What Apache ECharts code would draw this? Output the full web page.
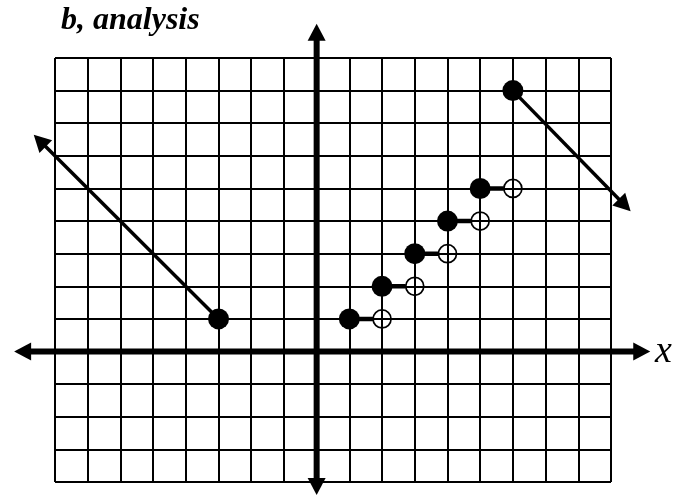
<!DOCTYPE html>
<html>
<head>
<meta charset="utf-8">
<script src="https://cdn.jsdelivr.net/npm/echarts@6/dist/echarts.min.js"></script>
<style>
  html, body { margin: 0; padding: 0; background: #fff; }
  #main { width: 685px; height: 498px; }
</style>
</head>
<body>
<div id="main"></div>
<script>
// grid range
var xMin = -8, xMax = 9;
var yMin = -4, yMax = 9;

// axes: [x1, y1, x2, y2] between the two arrow tips
var axisSegs = [
    [-9.25, 0, 10.2, 0],
    [0, -4.4, 0, 10.05]
];

// rays: [startX, startY, tipX, tipY]
var raySegs = [
    [-3, 1, -8.65, 6.65],
    [6, 8, 9.6, 4.3]
];

// closed dots and open dots
var closedPts = [[1, 1], [2, 2], [3, 3], [4, 4], [5, 5], [-3, 1], [6, 8]];
var openPts = [[2, 1], [3, 2], [4, 3], [5, 4], [6, 5]];

// step pieces: from closed dot to open dot
var steps = [
    [[1, 1], [2, 1]],
    [[2, 2], [3, 2]],
    [[3, 3], [4, 3]],
    [[4, 4], [5, 4]],
    [[5, 5], [6, 5]]
];

var UNIT = 32.7; // px per unit, only used to stop steps at the open circle
var openSize = 18;

var chart = echarts.init(document.getElementById('main'));

function head(tip, ux, uy, len, w) {
    var bx = tip[0] - ux * len, by = tip[1] - uy * len;
    return [tip, [bx - uy * w / 2, by + ux * w / 2], [bx + uy * w / 2, by - ux * w / 2]];
}

function arrowRender(width, both) {
    return function (params, api) {
        var a = api.coord([api.value(0), api.value(1)]);
        var b = api.coord([api.value(2), api.value(3)]);
        var dx = b[0] - a[0], dy = b[1] - a[1];
        var len = Math.sqrt(dx * dx + dy * dy);
        var ux = dx / len, uy = dy / len;
        var hl = 17, hw = 18;
        var s = both ? [a[0] + ux * (hl - 2), a[1] + uy * (hl - 2)] : a;
        var e = [b[0] - ux * (hl - 2), b[1] - uy * (hl - 2)];
        var kids = [{
            type: 'line',
            shape: { x1: s[0], y1: s[1], x2: e[0], y2: e[1] },
            style: { stroke: '#000', lineWidth: width, lineCap: 'butt' }
        }, {
            type: 'polygon',
            shape: { points: head(b, ux, uy, hl, hw) },
            style: { fill: '#000' }
        }];
        if (both) {
            kids.push({
                type: 'polygon',
                shape: { points: head(a, -ux, -uy, hl, hw) },
                style: { fill: '#000' }
            });
        }
        return { type: 'group', children: kids };
    };
}

var series = [{
    type: 'custom',
    silent: true,
    animation: false,
    clip: false,
    z: 3,
    renderItem: arrowRender(6, true),
    data: axisSegs
}, {
    type: 'custom',
    silent: true,
    animation: false,
    clip: false,
    z: 4,
    renderItem: arrowRender(3.5, false),
    data: raySegs
}];

steps.forEach(function (s) {
    var gap = (openSize / 2) / UNIT;
    series.push({
        type: 'line',
        silent: true,
        animation: false,
        symbol: 'none',
        z: 5,
        lineStyle: { color: '#000', width: 4.5, cap: 'butt' },
        data: [s[0], [s[1][0] - gap, s[1][1]]]
    });
});

series.push({
    type: 'scatter',
    silent: true,
    animation: false,
    z: 6,
    symbol: 'circle',
    symbolSize: 21,
    itemStyle: { color: '#000', opacity: 1 },
    data: closedPts
});
series.push({
    type: 'scatter',
    silent: true,
    animation: false,
    z: 6,
    symbol: 'circle',
    symbolSize: openSize,
    itemStyle: { color: 'rgba(0,0,0,0)', borderColor: '#000', borderWidth: 1.7, opacity: 1 },
    data: openPts
});

var option = {
    backgroundColor: '#fff',
    animation: false,
    title: {
        text: 'b, analysis',
        left: 56,
        top: 0,
        textStyle: {
            fontFamily: 'Liberation Serif',
            fontStyle: 'italic',
            fontWeight: 'bold',
            fontSize: 32,
            color: '#000'
        }
    },
    grid: { left: 55, right: 74, top: 58, bottom: 16 },
    xAxis: {
        type: 'value',
        min: xMin, max: xMax, interval: 1,
        name: 'x',
        nameLocation: 'end',
        nameGap: 44,
        nameTextStyle: {
            fontFamily: 'Liberation Serif',
            fontStyle: 'italic',
            fontSize: 38,
            color: '#000',
            padding: [0, 0, 22, 0]
        },
        axisLine: { show: false },
        axisTick: { show: false },
        axisLabel: { show: false },
        splitLine: { show: true, lineStyle: { color: '#000', width: 2 } }
    },
    yAxis: {
        type: 'value',
        min: yMin, max: yMax, interval: 1,
        axisLine: { show: false },
        axisTick: { show: false },
        axisLabel: { show: false },
        splitLine: { show: true, lineStyle: { color: '#000', width: 2 } }
    },
    series: series
};

chart.setOption(option);
</script>
</body>
</html>
